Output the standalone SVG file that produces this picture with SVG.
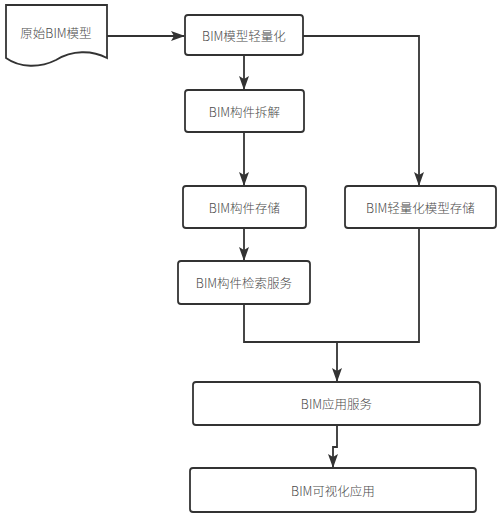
<svg xmlns="http://www.w3.org/2000/svg" width="500" height="516" viewBox="0 0 500 516">
<style>
.n{fill:#fff;stroke:#333;stroke-width:1.8}
.t{font-family:"Noto Sans CJK SC","Liberation Sans",sans-serif;font-size:12.5px;font-weight:300;fill:#4a4a4a;text-anchor:middle;dominant-baseline:central}
.c{fill:none;stroke:#333;stroke-width:1.8}
</style>
<defs>
<marker id="a" viewBox="0 0 14 10" refX="13" refY="5" markerWidth="14" markerHeight="10" markerUnits="userSpaceOnUse" orient="auto">
<path d="M0,0 L14,5 L0,10 L3,5 Z" fill="#333"/>
</marker>
</defs>
<rect width="500" height="516" fill="#fff"/>
<g id="connectors">
<path class="c" d="M107,36 H184" marker-end="url(#a)"/>
<path class="c" d="M244,55 V89" marker-end="url(#a)"/>
<path class="c" d="M244,132 V185" marker-end="url(#a)"/>
<path class="c" d="M244,228 V260" marker-end="url(#a)"/>
<path class="c" d="M303,36 H419 V185" marker-end="url(#a)"/>
<path class="c" d="M244,304 V342 H419 V228"/>
<path class="c" d="M337,342 V381" marker-end="url(#a)"/>
<path class="c" d="M337,425 V447 H333 V467" marker-end="url(#a)"/>
</g>
<g id="n1"><path class="n" d="M6,5 H107 V58 C92,50 72,50 56,60 C40,68 20,68 6,58 Z"/><text class="t" x="56" y="32">原始BIM模型</text></g>
<g id="n2"><rect class="n" x="185" y="15" width="118" height="40" rx="3"/><text class="t" x="244" y="35">BIM模型轻量化</text></g>
<g id="n3"><rect class="n" x="185" y="90" width="119" height="42" rx="3"/><text class="t" x="244.5" y="111">BIM构件拆解</text></g>
<g id="n4"><rect class="n" x="183" y="186" width="123" height="42" rx="3"/><text class="t" x="244.5" y="207">BIM构件存储</text></g>
<g id="n5"><rect class="n" x="345" y="186" width="151" height="42" rx="3"/><text class="t" x="420.5" y="207">BIM轻量化模型存储</text></g>
<g id="n6"><rect class="n" x="178" y="261" width="132" height="43" rx="3"/><text class="t" x="244" y="282.5">BIM构件检索服务</text></g>
<g id="n7"><rect class="n" x="193" y="382" width="287" height="43" rx="3"/><text class="t" x="336.5" y="403.5">BIM应用服务</text></g>
<g id="n8"><rect class="n" x="190" y="468" width="286" height="44" rx="3"/><text class="t" x="333" y="490">BIM可视化应用</text></g>
</svg>
